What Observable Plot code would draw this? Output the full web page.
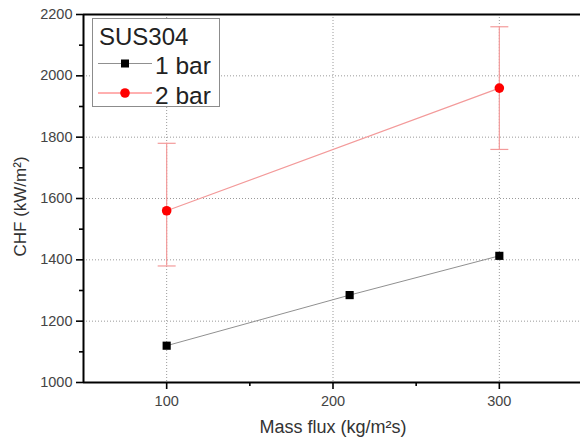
<!DOCTYPE html>
<html>
<head>
<meta charset="utf-8">
<script src="https://cdn.jsdelivr.net/npm/d3@7"></script>
<script src="https://cdn.jsdelivr.net/npm/@observablehq/plot@0.6"></script>
<style>
  html, body { margin: 0; padding: 0; background: #fff; }
  #wrap { position: relative; width: 580px; height: 446px; overflow: hidden; font-family: "Liberation Sans", Arial, sans-serif; }
  #legend { position: absolute; left: 92px; top: 18px; width: 128px; height: 89px; background: #fff; border: 1px solid #8c8c8c; box-sizing: border-box; }
  #legend svg { position: absolute; left: 0; top: 0; }
</style>
</head>
<body>
<div id="wrap"></div>
<script>
// ---- data ----
const seriesNames = ["1 bar", "2 bar"];
const legendTitle = "SUS304";
const massFlux1bar = [100, 210, 300];
const chf1bar = [1120, 1285, 1413];
const massFlux2bar = [100, 300];
const chf2bar = [1560, 1960];
const chf2barLow = [1380, 1760];
const chf2barHigh = [1780, 2160];
const xTicks = [100, 200, 300];
const xMinorTicks = [150, 250];
const yTicks = [1000, 1200, 1400, 1600, 1800, 2000, 2200];
const yMinorTicks = [1100, 1300, 1500, 1700, 1900, 2100];
const xLabel = "Mass flux (kg/m²s)";
const yLabel = "CHF (kW/m²)";

const data1 = massFlux1bar.map((x, i) => ({x, y: chf1bar[i]}));
const data2 = massFlux2bar.map((x, i) => ({x, y: chf2bar[i], lo: chf2barLow[i], hi: chf2barHigh[i]}));

const hbar = { draw(ctx, size) { const w = Math.sqrt(size / Math.PI); ctx.moveTo(-w, 0); ctx.lineTo(w, 0); } };

const gray = "#909090", pink = "#f39a9a", red = "#ff0000", tickText = "#444";
const fmt = d3.format("d");

const chart = Plot.plot({
  width: 580,
  height: 446,
  marginLeft: 83,
  marginRight: -2,
  marginTop: 14,
  marginBottom: 64,
  style: { fontFamily: "Liberation Sans, Arial, sans-serif", background: "#fff", overflow: "visible" },
  x: { domain: [50, 350], axis: null },
  y: { domain: [1000, 2200], axis: null },
  marks: [
    Plot.gridX(xTicks, { stroke: "#9a9a9a", strokeOpacity: 1, strokeDasharray: "1,2" }),
    Plot.gridY(yTicks.slice(1, -1), { stroke: "#9a9a9a", strokeOpacity: 1, strokeDasharray: "1,2" }),
    Plot.ruleY([yTicks[yTicks.length - 1]], { stroke: "#000", strokeWidth: 2 }),
    Plot.ruleY([yTicks[0]], { stroke: "#000", strokeWidth: 2 }),
    Plot.ruleX([50], { stroke: "#000", strokeWidth: 2 }),
    Plot.axisY(yTicks, { tickSize: 7, tickPadding: 4, tickFormat: fmt, stroke: "#000", strokeWidth: 1.6, fill: tickText, fontSize: 14.5, label: null }),
    Plot.axisY(yMinorTicks, { tickSize: 4, stroke: "#000", strokeWidth: 1.6, text: null, label: null }),
    Plot.axisX(xTicks, { tickSize: 7, tickPadding: 6, tickFormat: fmt, stroke: "#000", strokeWidth: 1.6, fill: tickText, fontSize: 14.5, label: null }),
    Plot.axisX(xMinorTicks, { tickSize: 4, stroke: "#000", strokeWidth: 1.6, text: null, label: null }),
    Plot.text([yLabel], { frameAnchor: "left", rotate: -90, dx: -63, dy: 58, fontSize: 17, fill: "#333" }),
    Plot.text([xLabel], { frameAnchor: "bottom", dy: 50, fontSize: 18, fill: "#333" }),
    Plot.line(data1, { x: "x", y: "y", stroke: gray, strokeWidth: 1 }),
    Plot.line(data2, { x: "x", y: "y", stroke: pink, strokeWidth: 1.2 }),
    Plot.ruleX(data2, { x: "x", y1: "lo", y2: "hi", stroke: pink, strokeWidth: 1.2 }),
    Plot.dot(data2, { x: "x", y: "lo", symbol: hbar, r: 9, stroke: pink, strokeWidth: 1.2 }),
    Plot.dot(data2, { x: "x", y: "hi", symbol: hbar, r: 9, stroke: pink, strokeWidth: 1.2 }),
    Plot.dot(data1, { x: "x", y: "y", symbol: "square", r: 4.6, fill: "#000", stroke: "none" }),
    Plot.dot(data2, { x: "x", y: "y", symbol: "circle", r: 4.8, fill: red, stroke: "none" })
  ]
});

const wrap = document.getElementById("wrap");
wrap.appendChild(chart);

// legend
const legend = document.createElement("div");
legend.id = "legend";
const colors = [{line: gray, fill: "#000", sym: "square"}, {line: "#ff6060", fill: red, sym: "circle"}];
let svg = `<svg width="128" height="89" xmlns="http://www.w3.org/2000/svg" font-family="Liberation Sans, Arial, sans-serif">`;
svg += `<text x="6" y="25.5" font-size="24" fill="#222">${legendTitle}</text>`;
seriesNames.forEach((name, i) => {
  const cy = 44.5 + i * 29.5;
  const c = colors[i];
  svg += `<line x1="5" x2="59" y1="${cy}" y2="${cy}" stroke="${c.line}" stroke-width="1"/>`;
  if (c.sym === "square") svg += `<rect x="${32 - 4}" y="${cy - 4}" width="8" height="8" fill="${c.fill}"/>`;
  else svg += `<circle cx="32" cy="${cy}" r="4.8" fill="${c.fill}"/>`;
  svg += `<text x="62" y="${cy + 10.5}" font-size="24.5" fill="#222">${name}</text>`;
});
svg += `</svg>`;
legend.innerHTML = svg;
wrap.appendChild(legend);
</script>
</body>
</html>
